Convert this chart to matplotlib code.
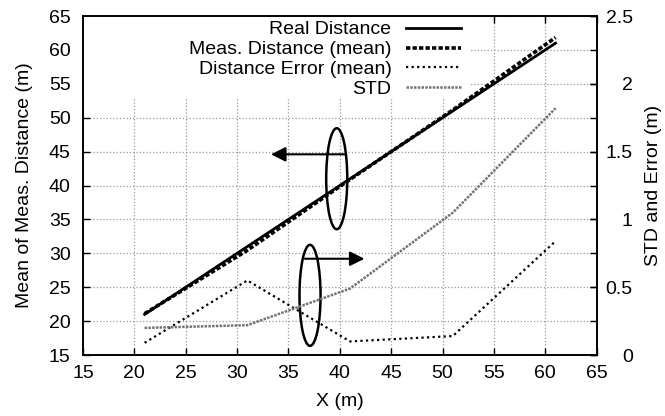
import matplotlib.pyplot as plt
from matplotlib.patches import Ellipse, Rectangle

plt.rcParams['font.family'] = ['Liberation Sans', 'DejaVu Sans']
plt.rcParams['font.size'] = 14

# distances in metres
x = [21, 31, 41, 51, 61]
real_dist = [21, 31, 41, 51, 61]
meas_mean = [21.1, 30.45, 40.9, 51.14, 61.84]
err_mean = [0.09, 0.55, 0.10, 0.14, 0.84]
std = [0.20, 0.22, 0.49, 1.05, 1.82]

fig = plt.figure(figsize=(6.65, 4.16), dpi=100)
ax = fig.add_axes([0.1248, 0.1466, 0.7724, 0.8149])
ax2 = ax.twinx()

l1, = ax.plot(x, real_dist, color='black', lw=2.0, ls='-', label='Real Distance')
l2, = ax.plot(x, meas_mean, color='black', lw=2.6, ls=(0, (1.2, 0.6)),
              label='Meas. Distance (mean)')
l3, = ax2.plot(x, err_mean, color='black', lw=1.6, ls=(0, (1, 1.5)),
               label='Distance Error (mean)')
l4, = ax2.plot(x, std, color='0.45', lw=1.8, ls=(0, (1, 0.5)), label='STD')

ax.set_xlim(15, 65)
ax.set_ylim(15, 65)
ax2.set_ylim(0, 2.5)
ax.set_xticks(range(15, 66, 5))
ax.set_yticks(range(15, 66, 5))
ax2.set_yticks([0, 0.5, 1, 1.5, 2, 2.5])
ax2.set_yticklabels(['0', '0.5', '1', '1.5', '2', '2.5'])

ax.set_axisbelow(True)
ax.grid(True, color='0.6', ls=':', lw=0.9)
ax.tick_params(direction='in', top=True, right=True, length=5, width=1)
ax.tick_params(axis='y', pad=9)
ax.tick_params(axis='x', pad=7)
ax2.tick_params(direction='in', length=5, width=1, pad=26)
for lab in ax2.get_yticklabels():
    lab.set_horizontalalignment('right')
for a in (ax, ax2):
    for s in a.spines.values():
        s.set_linewidth(1.2)

ax.set_xlabel('X (m)', labelpad=8)
ax.set_ylabel('Mean of Meas. Distance (m)', labelpad=11)
ax2.set_ylabel('STD and Error (m)', labelpad=9)

# blank area behind the key
ax.add_patch(Rectangle((0, 0.755), 0.755, 0.245, transform=ax.transAxes,
                       facecolor='white', edgecolor='none', zorder=1))

# ellipses with arrows pointing at the axis each group belongs to
ax.add_patch(Ellipse((39.7, 41.0), 2.05, 14.9, fill=False, ec='black', lw=1.8))
ax.annotate('', xy=(33.3, 44.6), xytext=(40.6, 44.6),
            arrowprops=dict(arrowstyle='-|>', color='black', lw=1.5,
                            mutation_scale=22, shrinkA=0, shrinkB=0))
ax.add_patch(Ellipse((37.1, 23.8), 2.05, 14.9, fill=False, ec='black', lw=1.8))
ax.annotate('', xy=(42.4, 29.2), xytext=(36.6, 29.2),
            arrowprops=dict(arrowstyle='-|>', color='black', lw=1.5,
                            mutation_scale=22, shrinkA=0, shrinkB=0))

ax2.legend(handles=[l1, l2, l3, l4], loc='upper right',
           bbox_to_anchor=(0.735, 0.986), markerfirst=False, frameon=False,
           borderpad=0, borderaxespad=0, handlelength=2.8, handletextpad=0.75,
           labelspacing=0.12, fontsize=14)

fig.savefig('out.png', dpi=100)
